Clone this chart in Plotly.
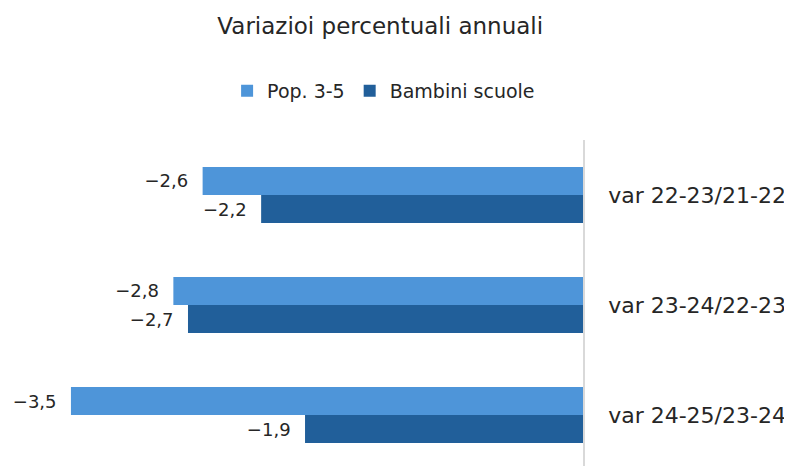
import plotly.graph_objects as go

# ---------------- Data ---------------- #
categories = ["var 22-23/21-22", "var 23-24/22-23", "var 24-25/23-24"]
pop_3_5 = [-2.6, -2.8, -3.5]
bambini_scuole = [-2.2, -2.7, -1.9]

FONT = "DejaVu Sans"
TXT = "#262626"


def fmt(v):
    # Italian decimal comma, real minus sign, a little padding from the bar end
    return f"{v:.1f}".replace(".", ",").replace("-", "\u2212") + "\u00a0\u00a0"


fig = go.Figure()

fig.add_trace(go.Bar(
    y=categories,
    x=pop_3_5,
    orientation="h",
    name="Pop. 3-5",
    marker_color="#4e95d9",
    text=[fmt(v) for v in pop_3_5],
    textposition="outside",
    cliponaxis=False,
))

fig.add_trace(go.Bar(
    y=categories,
    x=bambini_scuole,
    orientation="h",
    name="Bambini scuole",
    marker_color="#215f9a",
    text=[fmt(v) for v in bambini_scuole],
    textposition="outside",
    cliponaxis=False,
))

# ---------------- Styling ---------------- #
fig.update_traces(textfont=dict(family=FONT, size=18, color=TXT),
                  marker_line_width=0)

fig.update_layout(
    width=792, height=466,
    barmode="group", bargap=0.49, bargroupgap=0,
    paper_bgcolor="white", plot_bgcolor="white",
    font=dict(family=FONT, color=TXT),
    margin=dict(l=2, r=217, t=132, b=0),
    title=dict(text="Variazioi percentuali annuali",
               x=0.47, xanchor="center", y=1 - 18 / 466, yanchor="middle",
               font=dict(family=FONT, size=23, color=TXT)),
    legend=dict(orientation="h", x=0.652, xanchor="center", y=1.147, yanchor="middle",
                font=dict(family=FONT, size=19, color=TXT),
                traceorder="normal", itemwidth=30),
    showlegend=True,
)

fig.update_xaxes(range=[-573 / 146.3, 0], showgrid=False, zeroline=False,
                 showticklabels=False, showline=False, fixedrange=True)

fig.update_yaxes(side="right", range=[2.536, -0.5], showgrid=False, zeroline=False,
                 showline=True, linecolor="#d9d9d9", linewidth=1.5, ticks="",
                 ticklabelstandoff=19,
                 tickfont=dict(family=FONT, size=22, color=TXT))

fig.write_html("out.html")
